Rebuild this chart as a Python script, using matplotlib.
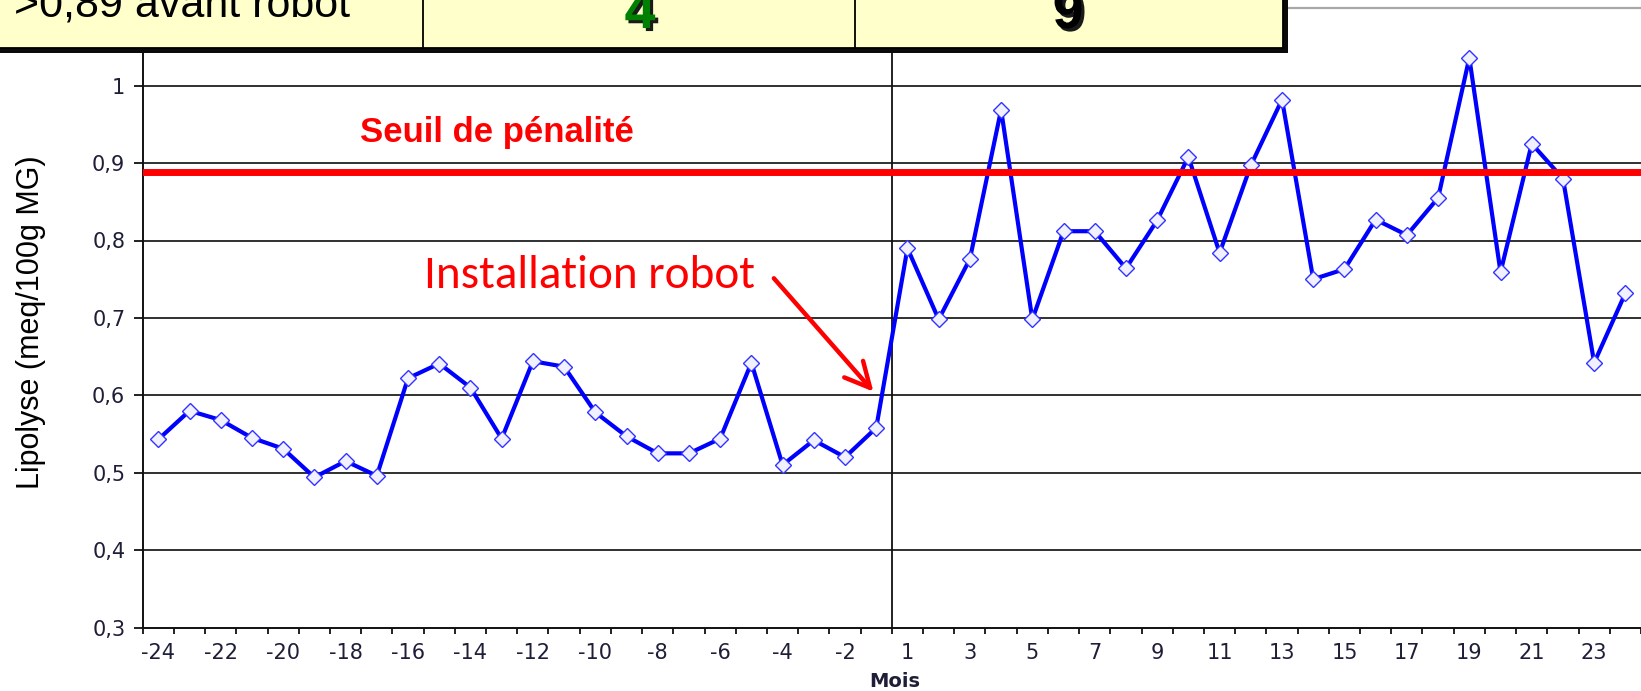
import matplotlib
matplotlib.use("Agg")
import matplotlib.pyplot as plt
import matplotlib.patheffects as pe
from matplotlib import font_manager
from matplotlib.patches import Rectangle
import numpy as np

# ---------------- data ----------------
months_before = list(range(-24, 0))
months_after = list(range(1, 25))
lipolyse_before = [0.543, 0.580, 0.568, 0.545, 0.531, 0.494, 0.515, 0.496,
                   0.622, 0.641, 0.610, 0.544, 0.644, 0.637, 0.578, 0.547,
                   0.525, 0.525, 0.544, 0.642, 0.510, 0.542, 0.520, 0.558]
lipolyse_after = [0.790, 0.698, 0.776, 0.969, 0.698, 0.812, 0.812, 0.764,
                  0.826, 0.908, 0.784, 0.897, 0.982, 0.750, 0.763, 0.827,
                  0.807, 0.855, 1.036, 0.759, 0.925, 0.880, 0.642, 0.732]
seuil = 0.888
y_ticks = [0.3, 0.4, 0.5, 0.6, 0.7, 0.8, 0.9, 1.0]
y_tick_labels = ["0,3", "0,4", "0,5", "0,6", "0,7", "0,8", "0,9", "1"]
table_texts = [">0,89 avant robot", "4", "9"]

months = months_before + months_after
values = lipolyse_before + lipolyse_after
x = np.arange(len(months))

names = {f.name for f in font_manager.fontManager.ttflist}
narrow = "Liberation Sans Narrow" in names
calib = "Carlito" if "Carlito" in names else "Lato"

W, H = 1641, 691
fig = plt.figure(figsize=(W / 100, H / 100), dpi=100)
fig.patch.set_facecolor("white")

left_px, top_px, bottom_px = 142.7, 8.3, 627.5
ax = fig.add_axes([left_px / W, 1 - bottom_px / H, 1 - left_px / W,
                   (bottom_px - top_px) / H])
ax.set_xlim(-0.5, 47.27)
ax.set_ylim(0.3, 1.1)

# grid lines
for yv in y_ticks[1:]:
    ax.axhline(yv, color="#202020", lw=1.3, zorder=1)
ax.axvline(23.5, color="#101010", lw=1.3, zorder=1)

# data line
ax.plot(x, values, color="#0000ff", lw=3.0, marker="D", ms=8.5,
        mfc="#f0f0ff", mec="#3333ff", mew=1.0, zorder=3)

# threshold
ax.axhline(seuil, color="#ff0000", lw=5, zorder=4)

# spines
for s in ["left", "bottom"]:
    ax.spines[s].set_color("#101010")
    ax.spines[s].set_linewidth(1.4)
ax.spines["top"].set_color("#a8a8a8")
ax.spines["top"].set_linewidth(1.6)
ax.spines["right"].set_visible(False)

# y ticks
ax.set_yticks(y_ticks)
ax.set_yticklabels(y_tick_labels)
ax.tick_params(axis="y", direction="out", length=6.5, width=1.3,
               color="#101010", pad=6, labelsize=15,
               labelcolor="#1e1e38")

# x ticks: boundaries as major ticks, labels on minor ticks
ax.set_xticks(np.arange(-0.5, len(months), 1.0))
ax.set_xticklabels([])
ax.set_xticks(x[::2], minor=True)
ax.set_xticklabels([str(m) for m in months[::2]], minor=True)
ax.tick_params(axis="x", which="major", direction="out", length=4.5,
               width=1.3, color="#101010")
ax.tick_params(axis="x", which="minor", length=0, pad=11, labelsize=15,
               labelcolor="#1e1e38")

ax.set_xlabel("Mois", fontsize=14, fontweight="bold", color="#1e1e38")
ax.xaxis.set_label_coords((895 - left_px) / (W - left_px), -0.072)

fig.text(31 / W, 1 - 322 / H, "Lipolyse (meq/100g MG)", rotation=90,
         ha="center", va="center", fontsize=22, family="Liberation Sans",
         color="black")

# annotations
if narrow:
    ax.text(6.46, 0.9276, "Seuil de pénalité", color="#ff0000",
            fontsize=30, fontweight="bold", family="Liberation Sans Narrow",
            ha="left", va="baseline", zorder=5)
else:
    ax.text(6.46, 0.9276, "Seuil de pénalité", color="#ff0000",
            fontsize=25, fontweight="bold", family="Liberation Sans",
            ha="left", va="baseline", zorder=5)

ax.text(19.12, 0.7386, "Installation robot", color="#ff0000",
        fontsize=34, family=calib, ha="right", va="baseline", zorder=5)
ax.annotate("", xy=(22.91, 0.6047), xytext=(19.72, 0.7512),
            arrowprops=dict(arrowstyle="->,head_length=0.9,head_width=0.45",
                            color="#ff0000", lw=3.2, mutation_scale=20,
                            shrinkA=0, shrinkB=0),
            zorder=5)

# table overlay (figure pixel coords)
ov = fig.add_axes([0, 0, 1, 1], zorder=10)
ov.set_xlim(0, W)
ov.set_ylim(H, 0)
ov.axis("off")
ov.patch.set_alpha(0)
ov.add_patch(Rectangle((-20, -20), 1288 + 20, 53 + 20, facecolor="#0a0a0a",
                       edgecolor="none"))
ov.add_patch(Rectangle((-20, -20), 1283 + 20, 48 + 20, facecolor="#ffffcc",
                       edgecolor="black", lw=1.3))
for xd in [423, 855]:
    ov.plot([xd, xd], [-20, 48], color="black", lw=1.3)

ov.text(14, 16, table_texts[0], fontsize=31, family="Liberation Sans",
        color="black", ha="left", va="baseline")
shadow = [pe.SimplePatchShadow(offset=(2.2, -2.2), shadow_rgbFace="#1a1a1a",
                               alpha=1.0), pe.Normal()]
ov.text(640, 28, table_texts[1], fontsize=40, fontweight="bold",
        family="Liberation Sans", color="#008000", ha="center",
        va="baseline", path_effects=shadow)
ov.text(1068, 28, table_texts[2], fontsize=40, fontweight="bold",
        family="Liberation Sans", color="black", ha="center",
        va="baseline", path_effects=shadow)

fig.savefig("out.png", dpi=100, facecolor="white")
